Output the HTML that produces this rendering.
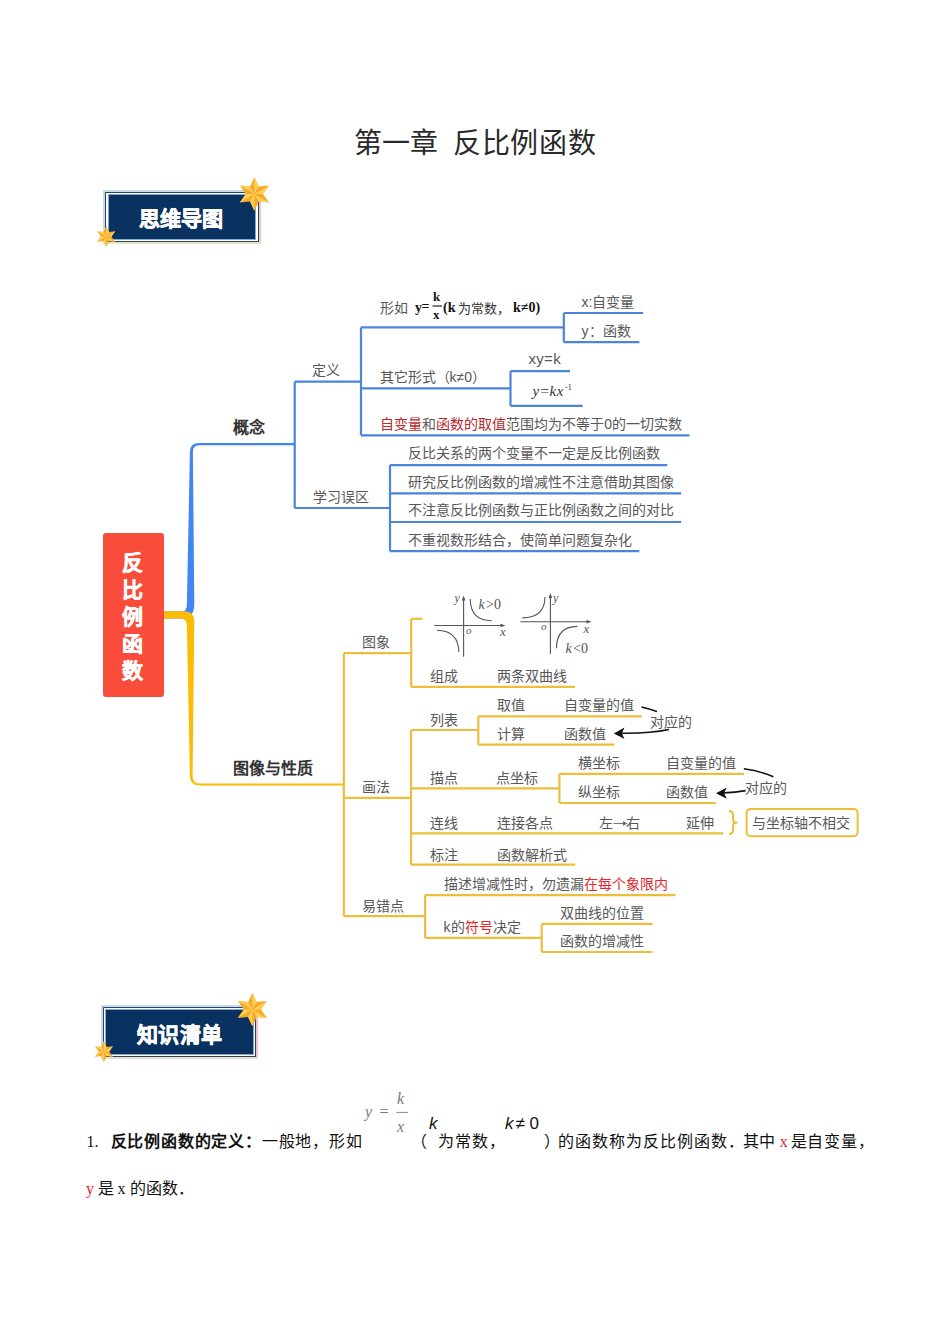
<!DOCTYPE html>
<html lang="zh-CN"><head><meta charset="utf-8"><title>反比例函数</title>
<style>
html,body{margin:0;padding:0;background:#fff}
body{width:950px;height:1344px;position:relative;overflow:hidden;font-family:'Liberation Sans',sans-serif}
.t{position:absolute;white-space:nowrap}
svg{position:absolute;left:0;top:0}
</style></head><body>
<svg width="950" height="1344" viewBox="0 0 950 1344"><line x1="294.7" y1="381.7" x2="361" y2="381.7" stroke="#4B84DA" stroke-width="2.2"/><line x1="361" y1="327.4" x2="563.8" y2="327.4" stroke="#4B84DA" stroke-width="2.2"/><line x1="361" y1="388.3" x2="510.5" y2="388.3" stroke="#4B84DA" stroke-width="2.2"/><line x1="361" y1="435.3" x2="689.5" y2="435.3" stroke="#4B84DA" stroke-width="2.2"/><line x1="563.8" y1="313" x2="643.2" y2="313" stroke="#4B84DA" stroke-width="2.2"/><line x1="563.8" y1="342.1" x2="639.4" y2="342.1" stroke="#4B84DA" stroke-width="2.2"/><line x1="510.5" y1="371.2" x2="570" y2="371.2" stroke="#4B84DA" stroke-width="2.2"/><line x1="510.5" y1="405.8" x2="582.7" y2="405.8" stroke="#4B84DA" stroke-width="2.2"/><line x1="294.7" y1="508" x2="390" y2="508" stroke="#4B84DA" stroke-width="2.2"/><line x1="390" y1="465.1" x2="667.3" y2="465.1" stroke="#4B84DA" stroke-width="2.2"/><line x1="390" y1="493.3" x2="681.1" y2="493.3" stroke="#4B84DA" stroke-width="2.2"/><line x1="390" y1="522" x2="681.1" y2="522" stroke="#4B84DA" stroke-width="2.2"/><line x1="390" y1="551.2" x2="639.3" y2="551.2" stroke="#4B84DA" stroke-width="2.2"/><line x1="294.7" y1="381.7" x2="294.7" y2="508" stroke="#4B84DA" stroke-width="2.2"/><line x1="361" y1="327.4" x2="361" y2="435.3" stroke="#4B84DA" stroke-width="2.2"/><line x1="563.8" y1="313" x2="563.8" y2="342.1" stroke="#4B84DA" stroke-width="2.2"/><line x1="510.5" y1="371.2" x2="510.5" y2="405.8" stroke="#4B84DA" stroke-width="2.2"/><line x1="390" y1="465.1" x2="390" y2="551.2" stroke="#4B84DA" stroke-width="2.2"/><path d="M613.5,823.5 L626,823.5" stroke="#666" stroke-width="0.9"/><path d="M627.5,823.5 L623,821.3 L623,825.7Z" fill="#666"/><line x1="343.8" y1="653.2" x2="411.2" y2="653.2" stroke="#EDBE3C" stroke-width="2.2"/><line x1="411.2" y1="618.8" x2="422.4" y2="618.8" stroke="#EDBE3C" stroke-width="2.2"/><line x1="411.2" y1="686.8" x2="575" y2="686.8" stroke="#EDBE3C" stroke-width="2.2"/><line x1="343.8" y1="797.9" x2="411" y2="797.9" stroke="#EDBE3C" stroke-width="2.2"/><line x1="411" y1="730" x2="478.3" y2="730" stroke="#EDBE3C" stroke-width="2.2"/><line x1="478.3" y1="716.3" x2="642" y2="716.3" stroke="#EDBE3C" stroke-width="2.2"/><line x1="478.3" y1="744.7" x2="614.3" y2="744.7" stroke="#EDBE3C" stroke-width="2.2"/><line x1="411" y1="788.3" x2="559.4" y2="788.3" stroke="#EDBE3C" stroke-width="2.2"/><line x1="559.4" y1="773.8" x2="744.2" y2="773.8" stroke="#EDBE3C" stroke-width="2.2"/><line x1="559.4" y1="803" x2="715.8" y2="803" stroke="#EDBE3C" stroke-width="2.2"/><line x1="411" y1="833.3" x2="723.3" y2="833.3" stroke="#EDBE3C" stroke-width="2.2"/><line x1="411" y1="864.6" x2="575.2" y2="864.6" stroke="#EDBE3C" stroke-width="2.2"/><line x1="343.8" y1="916.2" x2="425.1" y2="916.2" stroke="#EDBE3C" stroke-width="2.2"/><line x1="425.1" y1="895.2" x2="675.4" y2="895.2" stroke="#EDBE3C" stroke-width="2.2"/><line x1="425.1" y1="937.9" x2="541.7" y2="937.9" stroke="#EDBE3C" stroke-width="2.2"/><line x1="541.7" y1="923.8" x2="652.6" y2="923.8" stroke="#EDBE3C" stroke-width="2.2"/><line x1="541.7" y1="952" x2="652.6" y2="952" stroke="#EDBE3C" stroke-width="2.2"/><line x1="343.8" y1="653.2" x2="343.8" y2="916.2" stroke="#EDBE3C" stroke-width="2.2"/><line x1="411.2" y1="618.8" x2="411.2" y2="686.8" stroke="#EDBE3C" stroke-width="2.2"/><line x1="411" y1="730" x2="411" y2="864.6" stroke="#EDBE3C" stroke-width="2.2"/><line x1="478.3" y1="716.3" x2="478.3" y2="744.7" stroke="#EDBE3C" stroke-width="2.2"/><line x1="559.4" y1="773.8" x2="559.4" y2="803" stroke="#EDBE3C" stroke-width="2.2"/><line x1="425.1" y1="895.2" x2="425.1" y2="937.9" stroke="#EDBE3C" stroke-width="2.2"/><line x1="541.7" y1="923.8" x2="541.7" y2="952" stroke="#EDBE3C" stroke-width="2.2"/><path d="M164,611.5 L182,611.5 Q186.9,611.5 186.9,604 L189.9,452 Q189.9,443 199,443 L294.7,443 L294.7,445.3 L199,445.3 Q192.9,445.3 192.9,452 L194.3,604 Q194.3,618.5 182,618.5 L164,618.5 Z" fill="#4285F4"/><path d="M164,611.2 L184,611.2 Q194.3,611.2 194.3,622 L192.6,776 Q192.6,783.4 200,783.4 L344.3,783.4 L344.3,785.6 L200,785.6 Q189.9,785.6 189.9,776 L186.9,626 Q186.9,618.6 180,618.6 L164,618.6 Z" fill="#FBBC05"/><path d="M729,811 Q733,811 733,815 L733,819.5 Q733,822.5 737.5,822.5 Q733,822.5 733,825.5 L733,830 Q733,834 729,834" fill="none" stroke="#EDBE3C" stroke-width="2"/><rect x="746.6" y="808.9" width="111" height="27.4" rx="4" fill="#fff" stroke="#EDBE3C" stroke-width="2"/><path d="M641.5,707 Q650,709 657,711.5" fill="none" stroke="#111" stroke-width="1.6"/><path d="M669,729.5 Q650,733.5 622,733.2" fill="none" stroke="#111" stroke-width="1.6"/><path d="M613.8,733.4 L624.5,727.6 L621.8,733.3 L624.5,739 Z" fill="#111"/><path d="M743.8,768.8 Q760,771 773.4,776.8" fill="none" stroke="#111" stroke-width="1.6"/><path d="M745.6,790.6 Q735,792.5 724,792.9" fill="none" stroke="#111" stroke-width="1.6"/><path d="M716,793.2 L726.8,787.4 L724,793 L726.8,798.8 Z" fill="#111"/><g fill="none" stroke="#555" stroke-width="1.1"><line x1="463.6" y1="598" x2="463.6" y2="656.7"/><line x1="434.2" y1="625.5" x2="503" y2="625.5"/><path d="M470.2,599 Q470.5,621 492,620.7"/><path d="M437,630.2 Q458.5,630.5 458.8,652"/><line x1="550.4" y1="595" x2="550.4" y2="653.9"/><line x1="520.4" y1="621.7" x2="589.5" y2="621.7"/><path d="M545,597 Q544.7,618 522.3,617.9"/><path d="M577.3,626.4 Q556.6,626.7 556.4,648.2"/></g><path d="M463.6,595.5 L461.8,600.5 L465.4,600.5Z M505.5,625.5 L500.5,623.7 L500.5,627.3Z M550.4,593 L548.6,598 L552.2,598Z M591.5,621.7 L586.5,619.9 L586.5,623.5Z" fill="#555"/><line x1="432.5" y1="306" x2="442" y2="306" stroke="#111" stroke-width="1.1"/><line x1="396.5" y1="1112.4" x2="408" y2="1112.4" stroke="#888" stroke-width="1"/></svg>
<div class="t" style="left:232.7px;top:420.3px;font:bold 16px/16px 'Liberation Sans',sans-serif;color:#333;">概念</div>
<div class="t" style="left:312.3px;top:363.4px;font:normal 14px/14px 'Liberation Sans',sans-serif;color:#585858;">定义</div>
<div class="t" style="left:312.7px;top:489.7px;font:normal 14px/14px 'Liberation Sans',sans-serif;color:#585858;">学习误区</div>
<div class="t" style="left:379.6px;top:300.9px;font:normal 14px/14px 'Liberation Sans',sans-serif;color:#585858;">形如</div>
<div class="t" style="left:379.6px;top:370.2px;font:normal 14px/14px 'Liberation Sans',sans-serif;color:#585858;">其它形式（k≠0）</div>
<div class="t" style="left:581.5px;top:295.3px;font:normal 14px/14px 'Liberation Sans',sans-serif;color:#585858;">x:自变量</div>
<div class="t" style="left:581.5px;top:323.9px;font:normal 14px/14px 'Liberation Sans',sans-serif;color:#585858;">y：函数</div>
<div class="t" style="left:528.5px;top:351.2px;font:normal 15px/15px 'Liberation Sans',sans-serif;color:#585858;letter-spacing:0.3px">xy=k</div>
<div class="t" style="left:380.2px;top:417.4px;font:normal 14px/14px 'Liberation Sans',sans-serif;color:#585858;"><span style="color:#b8282e">自变量</span>和<span style="color:#b8282e">函数的取值</span>范围均为不等于0的一切实数</div>
<div class="t" style="left:407.5px;top:446.3px;font:normal 14px/14px 'Liberation Sans',sans-serif;color:#585858;">反比关系的两个变量不一定是反比例函数</div>
<div class="t" style="left:407.5px;top:474.9px;font:normal 14px/14px 'Liberation Sans',sans-serif;color:#585858;">研究反比例函数的增减性不注意借助其图像</div>
<div class="t" style="left:407.5px;top:503.4px;font:normal 14px/14px 'Liberation Sans',sans-serif;color:#585858;">不注意反比例函数与正比例函数之间的对比</div>
<div class="t" style="left:407.5px;top:532.9px;font:normal 14px/14px 'Liberation Sans',sans-serif;color:#585858;">不重视数形结合，使简单问题复杂化</div>
<div class="t" style="left:232.8px;top:761.4px;font:bold 16px/16px 'Liberation Sans',sans-serif;color:#333;">图像与性质</div>
<div class="t" style="left:362.4px;top:635.1px;font:normal 14px/14px 'Liberation Sans',sans-serif;color:#585858;">图象</div>
<div class="t" style="left:429.8px;top:668.7px;font:normal 14px/14px 'Liberation Sans',sans-serif;color:#585858;">组成</div>
<div class="t" style="left:496.7px;top:668.6px;font:normal 14px/14px 'Liberation Sans',sans-serif;color:#585858;">两条双曲线</div>
<div class="t" style="left:362.4px;top:779.9px;font:normal 14px/14px 'Liberation Sans',sans-serif;color:#585858;">画法</div>
<div class="t" style="left:429.8px;top:712.7px;font:normal 14px/14px 'Liberation Sans',sans-serif;color:#585858;">列表</div>
<div class="t" style="left:496.5px;top:697.7px;font:normal 14px/14px 'Liberation Sans',sans-serif;color:#585858;">取值</div>
<div class="t" style="left:564.3px;top:697.6px;font:normal 14px/14px 'Liberation Sans',sans-serif;color:#585858;">自变量的值</div>
<div class="t" style="left:496.5px;top:726.6px;font:normal 14px/14px 'Liberation Sans',sans-serif;color:#585858;">计算</div>
<div class="t" style="left:564.3px;top:727.1px;font:normal 14px/14px 'Liberation Sans',sans-serif;color:#585858;">函数值</div>
<div class="t" style="left:649.5px;top:714.9px;font:normal 14px/14px 'Liberation Sans',sans-serif;color:#585858;">对应的</div>
<div class="t" style="left:429.5px;top:770.5px;font:normal 14px/14px 'Liberation Sans',sans-serif;color:#585858;">描点</div>
<div class="t" style="left:496.3px;top:770.5px;font:normal 14px/14px 'Liberation Sans',sans-serif;color:#585858;">点坐标</div>
<div class="t" style="left:577.5px;top:755.9px;font:normal 14px/14px 'Liberation Sans',sans-serif;color:#585858;">横坐标</div>
<div class="t" style="left:666.4px;top:755.9px;font:normal 14px/14px 'Liberation Sans',sans-serif;color:#585858;">自变量的值</div>
<div class="t" style="left:577.5px;top:784.5px;font:normal 14px/14px 'Liberation Sans',sans-serif;color:#585858;">纵坐标</div>
<div class="t" style="left:666.0px;top:784.5px;font:normal 14px/14px 'Liberation Sans',sans-serif;color:#585858;">函数值</div>
<div class="t" style="left:744.6px;top:780.5px;font:normal 14px/14px 'Liberation Sans',sans-serif;color:#585858;">对应的</div>
<div class="t" style="left:429.8px;top:815.9px;font:normal 14px/14px 'Liberation Sans',sans-serif;color:#585858;">连线</div>
<div class="t" style="left:496.5px;top:815.9px;font:normal 14px/14px 'Liberation Sans',sans-serif;color:#585858;">连接各点</div>
<div class="t" style="left:598.6px;top:815.9px;font:normal 14px/14px 'Liberation Sans',sans-serif;color:#585858;">左</div>
<div class="t" style="left:626.0px;top:815.9px;font:normal 14px/14px 'Liberation Sans',sans-serif;color:#585858;">右</div>
<div class="t" style="left:686.4px;top:815.9px;font:normal 14px/14px 'Liberation Sans',sans-serif;color:#585858;">延伸</div>
<div class="t" style="left:751.8px;top:816.2px;font:normal 14px/14px 'Liberation Sans',sans-serif;color:#585858;">与坐标轴不相交</div>
<div class="t" style="left:429.8px;top:848.1px;font:normal 14px/14px 'Liberation Sans',sans-serif;color:#585858;">标注</div>
<div class="t" style="left:496.5px;top:848.1px;font:normal 14px/14px 'Liberation Sans',sans-serif;color:#585858;">函数解析式</div>
<div class="t" style="left:362.4px;top:898.7px;font:normal 14px/14px 'Liberation Sans',sans-serif;color:#585858;">易错点</div>
<div class="t" style="left:443.5px;top:876.6px;font:normal 14px/14px 'Liberation Sans',sans-serif;color:#585858;">描述增减性时，勿遗漏<span style="color:#e8262a">在每个象限内</span></div>
<div class="t" style="left:443.5px;top:920.2px;font:normal 14px/14px 'Liberation Sans',sans-serif;color:#585858;">k的<span style="color:#e8262a">符号</span>决定</div>
<div class="t" style="left:560.0px;top:905.6px;font:normal 14px/14px 'Liberation Sans',sans-serif;color:#585858;">双曲线的位置</div>
<div class="t" style="left:560.0px;top:933.9px;font:normal 14px/14px 'Liberation Sans',sans-serif;color:#585858;">函数的增减性</div>
<div style="position:absolute;left:103px;top:533px;width:61px;height:163.5px;background:#FA4C3A;border-radius:3px"></div>
<div class="t" style="left:121.6px;top:552.0px;font:bold 21px/21px 'Liberation Sans',sans-serif;color:#fff;-webkit-text-stroke:0.5px #fff">反</div>
<div class="t" style="left:121.6px;top:578.9px;font:bold 21px/21px 'Liberation Sans',sans-serif;color:#fff;-webkit-text-stroke:0.5px #fff">比</div>
<div class="t" style="left:121.6px;top:605.8px;font:bold 21px/21px 'Liberation Sans',sans-serif;color:#fff;-webkit-text-stroke:0.5px #fff">例</div>
<div class="t" style="left:121.6px;top:632.7px;font:bold 21px/21px 'Liberation Sans',sans-serif;color:#fff;-webkit-text-stroke:0.5px #fff">函</div>
<div class="t" style="left:121.6px;top:659.6px;font:bold 21px/21px 'Liberation Sans',sans-serif;color:#fff;-webkit-text-stroke:0.5px #fff">数</div>
<div class="t" style="left:454.5px;top:591.5px;font:italic 12px/12px 'Liberation Serif',serif;color:#555">y</div>
<div class="t" style="left:478.5px;top:598px;font:italic 14px/14px 'Liberation Serif',serif;color:#555">k</div>
<div class="t" style="left:486px;top:598px;font:14px/14px 'Liberation Serif',serif;color:#555">&gt;0</div>
<div class="t" style="left:466px;top:624.5px;font:italic 11px/11px 'Liberation Serif',serif;color:#555">o</div>
<div class="t" style="left:500px;top:624.5px;font:italic 13px/13px 'Liberation Serif',serif;color:#555">x</div>
<div class="t" style="left:553px;top:591.5px;font:italic 12px/12px 'Liberation Serif',serif;color:#555">y</div>
<div class="t" style="left:541px;top:620.5px;font:italic 11px/11px 'Liberation Serif',serif;color:#555">o</div>
<div class="t" style="left:583.5px;top:621.5px;font:italic 13px/13px 'Liberation Serif',serif;color:#555">x</div>
<div class="t" style="left:565.5px;top:642px;font:italic 14px/14px 'Liberation Serif',serif;color:#555">k</div>
<div class="t" style="left:573px;top:642px;font:14px/14px 'Liberation Serif',serif;color:#555">&lt;0</div>
<div class="t" style="left:415px;top:300.5px;font:bold 14px/14px 'Liberation Serif',serif;color:#111">y</div>
<div class="t" style="left:421.5px;top:300px;font:bold 14px/14px 'Liberation Serif',serif;color:#111">=</div>
<div class="t" style="left:433px;top:289.5px;font:bold 13px/13px 'Liberation Serif',serif;color:#111">k</div>
<div class="t" style="left:433px;top:307.5px;font:bold 13px/13px 'Liberation Serif',serif;color:#111">x</div>
<div class="t" style="left:443px;top:300.5px;font:bold 14px/14px 'Liberation Serif',serif;color:#111">(k</div>
<div class="t" style="left:458px;top:301.5px;font:13px/13px 'Liberation Serif',serif;color:#333">为常数，</div>
<div class="t" style="left:513px;top:300.5px;font:bold 14px/14px 'Liberation Serif',serif;color:#111">k≠0)</div>
<div class="t" style="left:532.5px;top:383.5px;font:italic 15px/15px 'Liberation Serif',serif;color:#333">y</div>
<div class="t" style="left:540.5px;top:383.5px;font:15px/15px 'Liberation Serif',serif;color:#333">=</div>
<div class="t" style="left:549.5px;top:383.5px;font:italic 15px/15px 'Liberation Serif',serif;color:#333">k</div>
<div class="t" style="left:556.8px;top:383.5px;font:italic 15px/15px 'Liberation Serif',serif;color:#333">x</div>
<div class="t" style="left:565px;top:383.5px;font:8px/8px 'Liberation Serif',serif;color:#333">-1</div>
<div style="position:absolute;left:103px;top:189.5px;width:157.5px;height:54.5px;box-sizing:border-box;border:2px solid #c6dbea;border-right-color:#eec6c6;border-bottom-color:#ebe3c6"></div>
<div style="position:absolute;left:105px;top:191.5px;width:153.5px;height:50.5px;box-sizing:border-box;border:1.2px solid #2a4466"></div>
<div style="position:absolute;left:107.5px;top:194.0px;width:148.5px;height:45.5px;box-sizing:border-box;background:#0A3260;border:1.5px solid #86a8d0"></div>
<div class="t" style="left:138.6px;top:208.0px;font:bold 21px/21px 'Liberation Sans',sans-serif;color:#fff;-webkit-text-stroke:0.6px #fff;letter-spacing:0.3px">思维导图</div>
<div style="position:absolute;left:100.8px;top:1004.5px;width:157.5px;height:54.5px;box-sizing:border-box;border:2px solid #c6dbea;border-right-color:#eec6c6;border-bottom-color:#ebe3c6"></div>
<div style="position:absolute;left:102.8px;top:1006.5px;width:153.5px;height:50.5px;box-sizing:border-box;border:1.2px solid #2a4466"></div>
<div style="position:absolute;left:105.3px;top:1009.0px;width:148.5px;height:45.5px;box-sizing:border-box;background:#0A3260;border:1.5px solid #86a8d0"></div>
<div class="t" style="left:137.0px;top:1024.0px;font:bold 21px/21px 'Liberation Sans',sans-serif;color:#fff;-webkit-text-stroke:0.6px #fff;letter-spacing:0.3px">知识清单</div>
<div class="t" style="left:353.7px;top:129.5px;font:normal 28px/28px 'Liberation Serif',serif;color:#2a2a2a;">第一章</div>
<div class="t" style="left:453.0px;top:129.5px;font:normal 28px/28px 'Liberation Serif',serif;color:#2a2a2a;letter-spacing:0.7px">反比例函数</div>
<div class="t" style="left:86.4px;top:1134.2px;font:normal 16px/16px 'Liberation Serif',serif;color:#111;">1.</div>
<div class="t" style="left:110.6px;top:1134.2px;font:normal 16px/16px 'Liberation Serif',serif;color:#111;letter-spacing:0.8px"><b>反比例函数的定义：</b></div>
<div class="t" style="left:261.9px;top:1134.2px;font:normal 16px/16px 'Liberation Serif',serif;color:#111;letter-spacing:0.8px">一般地，形如</div>
<div class="t" style="left:411.0px;top:1134.2px;font:normal 16px/16px 'Liberation Serif',serif;color:#111;">（</div>
<div class="t" style="left:438.4px;top:1134.2px;font:normal 16px/16px 'Liberation Serif',serif;color:#111;letter-spacing:0.8px">为常数，</div>
<div class="t" style="left:544.0px;top:1134.2px;font:normal 16px/16px 'Liberation Serif',serif;color:#111;">）</div>
<div class="t" style="left:557.7px;top:1134.2px;font:normal 16px/16px 'Liberation Serif',serif;color:#111;letter-spacing:1px">的函数称为反比例函数．</div>
<div class="t" style="left:743.2px;top:1134.2px;font:normal 16px/16px 'Liberation Serif',serif;color:#111;">其中</div>
<div class="t" style="left:779.8px;top:1134.2px;font:normal 16px/16px 'Liberation Serif',serif;color:#d42a2a;">x</div>
<div class="t" style="left:790.5px;top:1134.2px;font:normal 16px/16px 'Liberation Serif',serif;color:#111;letter-spacing:0.8px">是自变量，</div>
<div class="t" style="left:86.0px;top:1180.7px;font:normal 16px/16px 'Liberation Serif',serif;color:#d42a2a;">y</div>
<div class="t" style="left:98.0px;top:1180.7px;font:normal 16px/16px 'Liberation Serif',serif;color:#111;">是</div>
<div class="t" style="left:117.5px;top:1180.7px;font:normal 16px/16px 'Liberation Serif',serif;color:#111;">x</div>
<div class="t" style="left:130.2px;top:1180.7px;font:normal 16px/16px 'Liberation Serif',serif;color:#111;">的函数．</div>
<div class="t" style="left:429px;top:1115px;font:italic 17px/17px 'Liberation Sans',sans-serif;color:#111">k</div>
<div class="t" style="left:505px;top:1115px;font:17px/17px 'Liberation Sans',sans-serif;color:#111;font-style:italic">k</div>
<div class="t" style="left:515.5px;top:1115px;font:17px/17px 'Liberation Sans',sans-serif;color:#111">≠</div>
<div class="t" style="left:529.5px;top:1115px;font:17px/17px 'Liberation Sans',sans-serif;color:#111">0</div>
<div class="t" style="left:365px;top:1103.5px;font:italic 16px/16px 'Liberation Serif',serif;color:#7a7a7a">y</div>
<div class="t" style="left:379.5px;top:1103.5px;font:16px/16px 'Liberation Serif',serif;color:#7a7a7a">=</div>
<div class="t" style="left:397px;top:1090.5px;font:italic 16px/16px 'Liberation Serif',serif;color:#7a7a7a">k</div>
<div class="t" style="left:397px;top:1118.5px;font:italic 16px/16px 'Liberation Serif',serif;color:#7a7a7a">x</div>
<svg width="950" height="1344" viewBox="0 0 950 1344" style="pointer-events:none"><polygon points="254.40,177.20 258.70,186.55 268.95,185.60 263.00,194.00 268.95,202.40 258.70,201.45 254.40,210.80 250.10,201.45 239.85,202.40 245.80,194.00 239.85,185.60 250.10,186.55" fill="#F6AA2C"/><polygon points="254.40,194.00 254.40,177.20 258.70,186.55" fill="#FFCE55"/><polygon points="254.40,194.00 268.95,185.60 263.00,194.00" fill="#FFCE55"/><polygon points="254.40,194.00 268.95,202.40 258.70,201.45" fill="#FFCE55"/><polygon points="254.40,194.00 254.40,210.80 250.10,201.45" fill="#FFCE55"/><polygon points="254.40,194.00 239.85,202.40 245.80,194.00" fill="#FFCE55"/><polygon points="254.40,194.00 239.85,185.60 250.10,186.55" fill="#FFCE55"/><polygon points="106.20,226.10 108.85,231.91 115.21,231.30 111.50,236.50 115.21,241.70 108.85,241.09 106.20,246.90 103.55,241.09 97.19,241.70 100.90,236.50 97.19,231.30 103.55,231.91" fill="#F6AA2C"/><polygon points="106.20,236.50 106.20,226.10 108.85,231.91" fill="#FFCE55"/><polygon points="106.20,236.50 115.21,231.30 111.50,236.50" fill="#FFCE55"/><polygon points="106.20,236.50 115.21,241.70 108.85,241.09" fill="#FFCE55"/><polygon points="106.20,236.50 106.20,246.90 103.55,241.09" fill="#FFCE55"/><polygon points="106.20,236.50 97.19,241.70 100.90,236.50" fill="#FFCE55"/><polygon points="106.20,236.50 97.19,231.30 103.55,231.91" fill="#FFCE55"/><polygon points="252.40,992.70 256.70,1002.05 266.95,1001.10 261.00,1009.50 266.95,1017.90 256.70,1016.95 252.40,1026.30 248.10,1016.95 237.85,1017.90 243.80,1009.50 237.85,1001.10 248.10,1002.05" fill="#F6AA2C"/><polygon points="252.40,1009.50 252.40,992.70 256.70,1002.05" fill="#FFCE55"/><polygon points="252.40,1009.50 266.95,1001.10 261.00,1009.50" fill="#FFCE55"/><polygon points="252.40,1009.50 266.95,1017.90 256.70,1016.95" fill="#FFCE55"/><polygon points="252.40,1009.50 252.40,1026.30 248.10,1016.95" fill="#FFCE55"/><polygon points="252.40,1009.50 237.85,1017.90 243.80,1009.50" fill="#FFCE55"/><polygon points="252.40,1009.50 237.85,1001.10 248.10,1002.05" fill="#FFCE55"/><polygon points="103.90,1041.10 106.55,1046.91 112.91,1046.30 109.20,1051.50 112.91,1056.70 106.55,1056.09 103.90,1061.90 101.25,1056.09 94.89,1056.70 98.60,1051.50 94.89,1046.30 101.25,1046.91" fill="#F6AA2C"/><polygon points="103.90,1051.50 103.90,1041.10 106.55,1046.91" fill="#FFCE55"/><polygon points="103.90,1051.50 112.91,1046.30 109.20,1051.50" fill="#FFCE55"/><polygon points="103.90,1051.50 112.91,1056.70 106.55,1056.09" fill="#FFCE55"/><polygon points="103.90,1051.50 103.90,1061.90 101.25,1056.09" fill="#FFCE55"/><polygon points="103.90,1051.50 94.89,1056.70 98.60,1051.50" fill="#FFCE55"/><polygon points="103.90,1051.50 94.89,1046.30 101.25,1046.91" fill="#FFCE55"/></svg>
</body></html>
